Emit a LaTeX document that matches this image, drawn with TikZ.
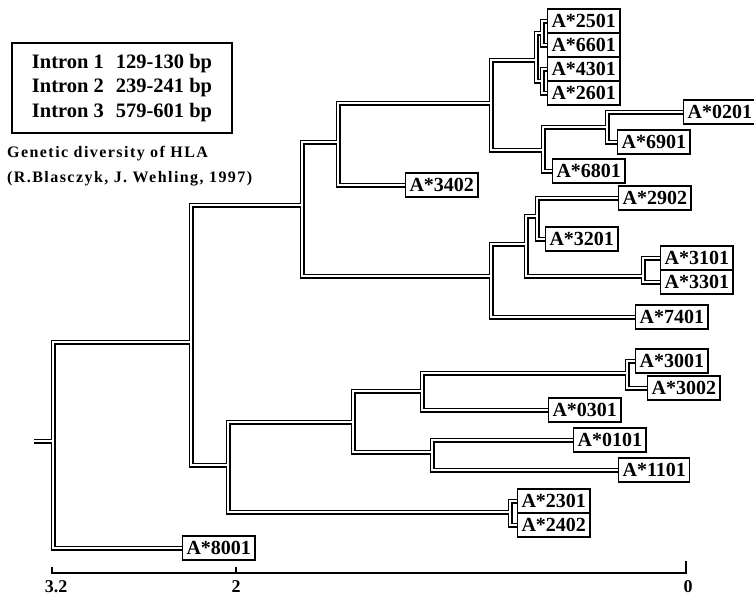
\documentclass[tikz,border=0pt]{standalone}
\usepackage{fontspec}
\setmainfont{Liberation Serif}
\usetikzlibrary{positioning, backgrounds}

% connectors of the tree, drawn twice (outer line, then white core)
\newcommand{\branches}[1]{%
  \draw[#1] (stub) -- (root);
  \draw[#1] (nTop) -| (root) |- (a8001.west);
  \draw[#1] (nUpper) -| (nTop) |- (nLower);
  \draw[#1] (nB) -| (nUpper) |- (nC);
  \draw[#1] (nD) -| (nB) |- (a3402.west);
  \draw[#1] (n4) -| (nD) |- (nE);
  \draw[#1] (nP) -| (n4) |- (nQ);
  \draw[#1] (a2501.west) -| (nP) |- (a6601.west);
  \draw[#1] (a4301.west) -| (nQ) |- (a2601.west);
  \draw[#1] (nF) -| (nE) |- (a6801.west);
  \draw[#1] (a0201.west) -| (nF) |- (a6901.west);
  \draw[#1] (nG) -| (nC) |- (a7401.west);
  \draw[#1] (nH) -| (nG) |- (nI);
  \draw[#1] (a2902.west) -| (nH) |- (a3201.west);
  \draw[#1] (a3101.west) -| (nI) |- (a3301.west);
  \draw[#1] (nJ) -| (nLower) |- (nK);
  \draw[#1] (nL) -| (nJ) |- (nM);
  \draw[#1] (nN) -| (nL) |- (a0301.west);
  \draw[#1] (a3001.west) -| (nN) |- (a3002.west);
  \draw[#1] (a0101.west) -| (nM) |- (a1101.west);
  \draw[#1] (a2301.west) -| (nK) |- (a2402.west);
}

\begin{document}
\begin{tikzpicture}[x=1pt, y=-1pt,
    allele/.style={draw, line width=1.1pt, anchor=west, inner xsep=4pt, inner ysep=0pt,
      minimum height=24pt, font=\bfseries\fontsize{20}{20}\selectfont},
    outerline/.style={line width=5pt, black},
    innerline/.style={line width=2pt, white},
    axislabel/.style={font=\bfseries\fontsize{18}{18}\selectfont},
    caption/.style={font=\bfseries\fontsize{16}{25}\selectfont\addfontfeature{LetterSpace=9},
      align=left, anchor=north west, inner sep=0pt},
  ]
    \useasboundingbox (0,0) rectangle (754,597);

    % legend
    \node[draw, line width=2.2pt, minimum width=220pt, minimum height=90pt, inner sep=0pt,
      font=\bfseries\fontsize{20.5}{24.5}\selectfont] (legend) at (122,88)
      {\begin{tabular}{@{}l@{\hspace{12pt}}l@{}}
        Intron 1 & 129-130 bp\\
        Intron 2 & 239-241 bp\\
        Intron 3 & 579-601 bp
      \end{tabular}};
    \node[caption] (source) at (7,146)
      {Genetic diversity of HLA\\(R.Blasczyk, J. Wehling, 1997)};

    % alleles
    \node[allele] (a2501) at (547,21) {A*2501};
    \node[allele] (a6601) at (547,45) {A*6601};
    \node[allele] (a4301) at (547,69) {A*4301};
    \node[allele] (a2601) at (547,93) {A*2601};
    \node[allele] (a0201) at (683,112) {A*0201};
    \node[allele] (a6901) at (617,142) {A*6901};
    \node[allele] (a6801) at (552,171) {A*6801};
    \node[allele] (a3402) at (405,185) {A*3402};
    \node[allele] (a2902) at (618,198) {A*2902};
    \node[allele] (a3201) at (545,239) {A*3201};
    \node[allele] (a3101) at (660,258) {A*3101};
    \node[allele] (a3301) at (660,282) {A*3301};
    \node[allele] (a7401) at (635,317) {A*7401};
    \node[allele] (a3001) at (635,361) {A*3001};
    \node[allele] (a3002) at (647,388) {A*3002};
    \node[allele] (a0301) at (548,410) {A*0301};
    \node[allele] (a0101) at (573,440) {A*0101};
    \node[allele] (a1101) at (618,470) {A*1101};
    \node[allele] (a2301) at (517,501) {A*2301};
    \node[allele] (a2402) at (517,525) {A*2402};
    \node[allele] (a8001) at (182,548) {A*8001};

    % branching points
    \coordinate (stub) at (34,441);
    \coordinate (root) at (53,441);
    \coordinate (nTop) at (191,342);
    \coordinate (nUpper) at (302,205);
    \coordinate (nLower) at (228,465);
    \coordinate (nB) at (338,142);
    \coordinate (nC) at (491,276);
    \coordinate (nD) at (491,103);
    \coordinate (n4) at (536,60);
    \coordinate (nP) at (542,33);
    \coordinate (nQ) at (542,81);
    \coordinate (nE) at (543,150);
    \coordinate (nF) at (607,127);
    \coordinate (nG) at (526,244);
    \coordinate (nH) at (537,216);
    \coordinate (nI) at (643,276);
    \coordinate (nJ) at (353,422);
    \coordinate (nK) at (510,512);
    \coordinate (nL) at (422,391);
    \coordinate (nM) at (432,452);
    \coordinate (nN) at (627,373);

    \begin{scope}[on background layer]
      \branches{outerline}
      \branches{innerline}
    \end{scope}

    % distance scale
    \coordinate (t32) at (52,573);
    \coordinate (t2) at (236,573);
    \coordinate (t0) at (686,573);
    \draw[line width=1.6pt] (t32) ++(0,-6) -- (t32) -- (t0) -- ++(0,-12);
    \draw[line width=1.6pt] (t2) -- ++(0,-6);
    \node[axislabel] (l32) at (56,587) {3.2};
    \node[axislabel] (l2) at (236,587) {2};
    \node[axislabel] (l0) at (688,587) {0};
  \end{tikzpicture}
\end{document}
